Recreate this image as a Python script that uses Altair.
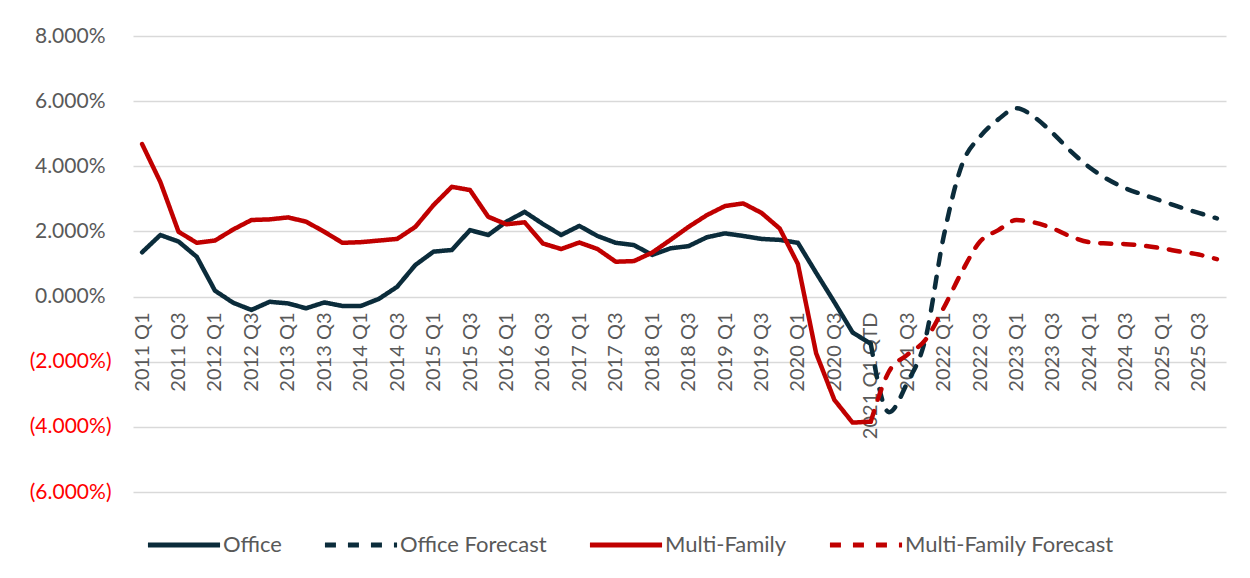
import altair as alt
import pandas as pd

quarters = [f"{2011 + i // 4} Q{i % 4 + 1}" for i in range(60)]
quarters[40] = "2021 Q1 QTD"

office_actual = [1.36, 1.89, 1.69, 1.22, 0.18, -0.19, -0.41, -0.16, -0.21, -0.36,
                 -0.18, -0.29, -0.29, -0.07, 0.30, 0.97, 1.38, 1.43, 2.04, 1.89,
                 2.30, 2.60, 2.23, 1.89, 2.17, 1.86, 1.65, 1.58, 1.28, 1.48,
                 1.55, 1.82, 1.94, 1.86, 1.77, 1.74, 1.65, 0.73, -0.17, -1.10, -1.45]
mf_actual = [4.68, 3.52, 1.99, 1.65, 1.72, 2.06, 2.35, 2.37, 2.43, 2.30,
             1.99, 1.65, 1.67, 1.72, 1.77, 2.14, 2.81, 3.37, 3.27, 2.45,
             2.22, 2.28, 1.63, 1.46, 1.66, 1.46, 1.07, 1.09, 1.35, 1.74,
             2.14, 2.50, 2.78, 2.86, 2.57, 2.09, 1.00, -1.74, -3.17, -3.87, -3.84]
office_fc = [-1.45, -3.55, -2.65, -1.30, 1.84, 4.04, 4.91, 5.44, 5.78, 5.50,
             5.01, 4.45, 3.97, 3.60, 3.32, 3.12, 2.93, 2.74, 2.57, 2.40]
mf_fc = [-3.84, -2.30, -1.79, -1.33, -0.35, 0.76, 1.69, 2.04, 2.35, 2.27,
         2.09, 1.84, 1.67, 1.63, 1.61, 1.56, 1.48, 1.38, 1.29, 1.15]

series_names = ["Office", "Office Forecast", "Multi-Family", "Multi-Family Forecast"]
series_colors = ["#0B2C3B", "#0B2C3B", "#C00000", "#C00000"]
series_dash = [[1, 0], [11, 12], [1, 0], [11, 12]]
y_ticks = [-6, -4, -2, 0, 2, 4, 6, 8]

rows = []
for i, v in enumerate(office_actual):
    rows.append({"q": quarters[i], "v": v, "s": "Office", "kind": "a"})
for i, v in enumerate(mf_actual):
    rows.append({"q": quarters[i], "v": v, "s": "Multi-Family", "kind": "a"})
for j, v in enumerate(office_fc):
    rows.append({"q": quarters[40 + j], "v": v, "s": "Office Forecast", "kind": "f"})
for j, v in enumerate(mf_fc):
    rows.append({"q": quarters[40 + j], "v": v, "s": "Multi-Family Forecast", "kind": "f"})
df = pd.DataFrame(rows)

FONT = "Lato"
x = alt.X("q:N", sort=quarters, title=None,
          scale=alt.Scale(type="point", padding=0.5),
          axis=alt.Axis(values=quarters[::2], labelAngle=-90, labelFontSize=20,
                        labelColor="#595959", labelFont=FONT, ticks=False, tickSize=0,
                        domain=False, grid=False, offset=-196, labelPadding=16,
                        labelOverlap=False, labelBound=False))
y = alt.Y("v:Q", title=None,
          scale=alt.Scale(domain=[-6, 8], nice=False, zero=False),
          axis=alt.Axis(values=y_ticks, labelFontSize=21, labelFont=FONT,
                        labelExpr="datum.value < 0 ? '(' + format(-datum.value, '.3f') + '%)' : format(datum.value, '.3f') + '%'",
                        labelColor=alt.condition("datum.value < 0", alt.value("#FF0000"), alt.value("#595959")),
                        labelPadding=alt.condition("datum.value < 0", alt.value(22), alt.value(28)),
                        ticks=False, domain=False, grid=True, gridColor="#D9D9D9",
                        gridWidth=1.3))
color = alt.Color("s:N", scale=alt.Scale(domain=series_names, range=series_colors),
                  legend=alt.Legend(title=None, orient="none", legendX=12, legendY=470,
                                    direction="horizontal", columns=4, columnPadding=32,
                                    symbolType="stroke", symbolSize=5200,
                                    symbolStrokeWidth=5, labelFontSize=22, labelLimit=400,
                                    labelFont=FONT, labelColor="#595959", labelOffset=0))
dash = alt.StrokeDash("s:N", scale=alt.Scale(domain=series_names, range=series_dash),
                      legend=None)

base = alt.Chart(df)
actual = base.transform_filter("datum.kind == 'a'").mark_line(
    strokeWidth=4.5, strokeJoin="round", strokeCap="round"
).encode(x=x, y=y, color=color, strokeDash=dash, detail="s:N")
fc = base.transform_filter("datum.kind == 'f'").mark_line(
    strokeWidth=4.5, strokeJoin="round", strokeCap="round", interpolate="monotone"
).encode(x=x, y=y, color=color, strokeDash=dash, detail="s:N")

chart = alt.layer(actual, fc).properties(
    width=1093, height=456,
    autosize=alt.AutoSizeParams(type="none"),
    padding={"left": 125, "top": 28, "right": 10, "bottom": 70},
).configure(background="white").configure_view(stroke=None)

chart.save("out.html", embed_options={"renderer": "svg", "actions": False})
